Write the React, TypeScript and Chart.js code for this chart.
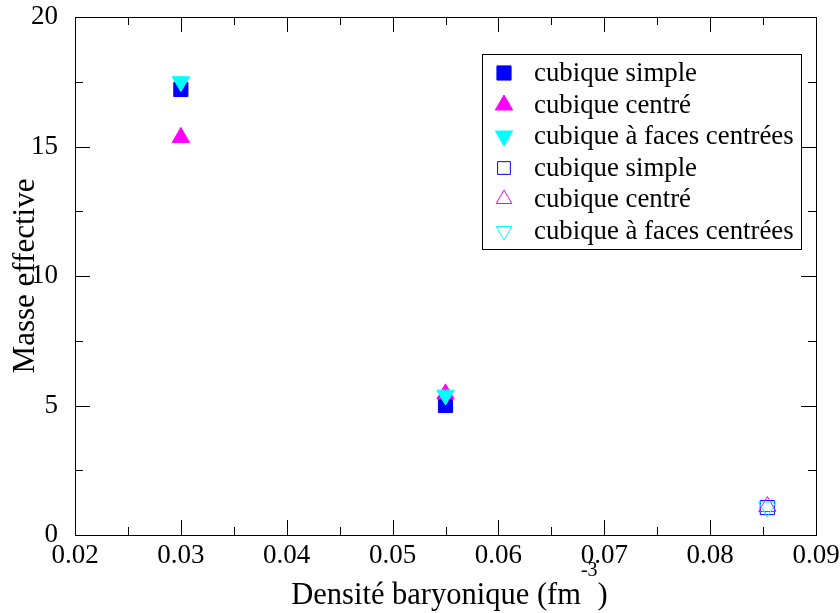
import React, { useEffect, useRef } from 'react';
import { Chart, registerables } from 'chart.js';

Chart.register(...registerables);

// ---- data ----
const densityFilled = [0.03, 0.055];
const densityOpen = [0.0854];
const massSimpleFilled = [17.2, 5.0];
const massCentreFilled = [15.35, 5.45];
const massFacesFilled = [17.5, 5.4];
const massSimpleOpen = [1.06];
const massCentreOpen = [1.1];
const massFacesOpen = [1.08];
const seriesLabels = ['cubique simple', 'cubique centré', 'cubique à faces centrées'];
const seriesColors = ['#0000ff', '#ff00ff', '#00ffff'];
const seriesShapes = ['rect', 'triangle', 'triangleDown'];
const xTickValues = [0.02, 0.03, 0.04, 0.05, 0.06, 0.07, 0.08, 0.09];
const yTickValues = [0, 5, 10, 15, 20];
const xTitle = 'Densité baryonique (fm';
const xTitleSup = '-3';
const yTitle = 'Masse effective';

const FONT = '"Liberation Serif", "DejaVu Serif", "Noto Serif", serif';

function pts(xs: number[], ys: number[]) {
  return xs.map((x, i) => ({ x, y: ys[i] }));
}

function drawMarker(ctx: CanvasRenderingContext2D, shape: string, x: number, y: number, r: number, color: string, filled: boolean) {
  ctx.save();
  ctx.beginPath();
  if (shape === 'rect') {
    const s = Math.SQRT1_2 * r;
    ctx.rect(x - s, y - s, 2 * s, 2 * s);
  } else {
    const dir = shape === 'triangle' ? -1 : 1;
    const w = r * Math.sin(Math.PI / 3);
    ctx.moveTo(x, y + dir * r);
    ctx.lineTo(x - w, y - dir * r / 2);
    ctx.lineTo(x + w, y - dir * r / 2);
    ctx.closePath();
  }
  ctx.lineWidth = 1;
  ctx.strokeStyle = color;
  if (filled) {
    ctx.fillStyle = color;
    ctx.fill();
  }
  ctx.stroke();
  ctx.restore();
}

const framePlugin = {
  id: 'frameTicks',
  beforeDatasetsDraw(chart: any) {
    const { ctx, scales } = chart;
    const xs = scales.x;
    const ys = scales.y;
    const L = xs.getPixelForValue(xTickValues[0]);
    const R = xs.getPixelForValue(xTickValues[xTickValues.length - 1]);
    const B = ys.getPixelForValue(yTickValues[0]);
    const T = ys.getPixelForValue(yTickValues[yTickValues.length - 1]);
    ctx.save();
    ctx.strokeStyle = '#000';
    ctx.lineWidth = 1;
    ctx.strokeRect(Math.round(L) + 0.5, Math.round(T) + 0.5, Math.round(R - L), Math.round(B - T));
    const major = 15;
    const minor = 8;
    ctx.beginPath();
    for (let i = 0; i < xTickValues.length; i++) {
      const v = xTickValues[i];
      const px = Math.round(xs.getPixelForValue(v)) + 0.5;
      ctx.moveTo(px, B); ctx.lineTo(px, B - major);
      ctx.moveTo(px, T); ctx.lineTo(px, T + major);
      if (i < xTickValues.length - 1) {
        const mv = (v + xTickValues[i + 1]) / 2;
        const mx = Math.round(xs.getPixelForValue(mv)) + 0.5;
        ctx.moveTo(mx, B); ctx.lineTo(mx, B - minor);
        ctx.moveTo(mx, T); ctx.lineTo(mx, T + minor);
      }
    }
    for (let i = 0; i < yTickValues.length; i++) {
      const v = yTickValues[i];
      const py = Math.round(ys.getPixelForValue(v)) + 0.5;
      ctx.moveTo(L, py); ctx.lineTo(L + major, py);
      ctx.moveTo(R, py); ctx.lineTo(R - major, py);
      if (i < yTickValues.length - 1) {
        const mv = (v + yTickValues[i + 1]) / 2;
        const my = Math.round(ys.getPixelForValue(mv)) + 0.5;
        ctx.moveTo(L, my); ctx.lineTo(L + minor, my);
        ctx.moveTo(R, my); ctx.lineTo(R - minor, my);
      }
    }
    ctx.stroke();
    ctx.restore();
  },
  afterDraw(chart: any) {
    const { ctx, scales } = chart;
    const xs = scales.x;
    const ys = scales.y;
    const L = xs.getPixelForValue(xTickValues[0]);
    const R = xs.getPixelForValue(xTickValues[xTickValues.length - 1]);
    const B = ys.getPixelForValue(yTickValues[0]);
    const T = ys.getPixelForValue(yTickValues[yTickValues.length - 1]);
    ctx.save();
    ctx.fillStyle = '#000';
    // y title
    ctx.font = `31px ${FONT}`;
    ctx.textAlign = 'center';
    ctx.textBaseline = 'middle';
    ctx.save();
    ctx.translate(26, (T + B) / 2);
    ctx.rotate(-Math.PI / 2);
    ctx.fillText(yTitle, 0, 0);
    ctx.restore();
    // x title with superscript
    ctx.textAlign = 'left';
    ctx.textBaseline = 'alphabetic';
    ctx.font = `30.5px ${FONT}`;
    const w1 = ctx.measureText(xTitle).width;
    const w3 = ctx.measureText(')').width;
    ctx.font = `20px ${FONT}`;
    const w2 = ctx.measureText(xTitleSup).width;
    const total = w1 + w2 + w3;
    const cx = (L + R) / 2 + 4;
    const x0 = cx - total / 2;
    const base = 604;
    ctx.font = `30.5px ${FONT}`;
    ctx.fillText(xTitle, x0, base);
    ctx.font = `20px ${FONT}`;
    ctx.fillText(xTitleSup, x0 + w1, base - 28);
    ctx.font = `30.5px ${FONT}`;
    ctx.fillText(')', x0 + w1 + w2, base);

    // legend
    const lx = 482.5, ly = 54.5, lw = 319, lh = 195;
    ctx.fillStyle = '#fff';
    ctx.fillRect(lx, ly, lw, lh);
    ctx.strokeStyle = '#000';
    ctx.lineWidth = 1;
    ctx.strokeRect(lx, ly, lw, lh);
    const rows = [73, 105, 136, 168, 199, 231];
    ctx.font = `26.8px ${FONT}`;
    ctx.textBaseline = 'middle';
    ctx.textAlign = 'left';
    for (let i = 0; i < 6; i++) {
      const k = i % 3;
      const filled = i < 3;
      drawMarker(ctx, seriesShapes[k], 504, rows[i], filled ? 10 : 9, seriesColors[k], filled);
      ctx.fillStyle = '#000';
      ctx.fillText(seriesLabels[k], 534, rows[i] + 1);
    }
    ctx.restore();
  },
};

function ds(label: string, data: any[], color: string, shape: string, filled: boolean, order: number) {
  const rotation = shape === 'triangleDown' ? 180 : 0;
  const style = shape === 'triangleDown' ? 'triangle' : shape;
  return {
    label,
    data,
    showLine: false,
    pointStyle: style,
    rotation,
    pointRadius: 10,
    pointHoverRadius: 10,
    pointBorderWidth: 1,
    borderColor: color,
    backgroundColor: filled ? color : 'rgba(0,0,0,0)',
    pointBackgroundColor: filled ? color : 'rgba(0,0,0,0)',
    pointBorderColor: color,
    order,
  };
}

export default function App() {
  const ref = useRef<HTMLCanvasElement | null>(null);
  useEffect(() => {
    document.body.style.margin = '0';
    const canvas = ref.current;
    if (!canvas) return;
    const chart = new Chart(canvas, {
      type: 'scatter',
      data: {
        datasets: [
          ds(seriesLabels[0], pts(densityFilled, massSimpleFilled), seriesColors[0], 'rect', true, 6),
          ds(seriesLabels[1], pts(densityFilled, massCentreFilled), seriesColors[1], 'triangle', true, 5),
          ds(seriesLabels[2], pts(densityFilled, massFacesFilled), seriesColors[2], 'triangleDown', true, 4),
          ds(seriesLabels[0], pts(densityOpen, massSimpleOpen), seriesColors[0], 'rect', false, 3),
          ds(seriesLabels[1], pts(densityOpen, massCentreOpen), seriesColors[1], 'triangle', false, 2),
          ds(seriesLabels[2], pts(densityOpen, massFacesOpen), seriesColors[2], 'triangleDown', false, 1),
        ] as any,
      },
      options: {
        responsive: false,
        animation: false,
        devicePixelRatio: 1,
        layout: { padding: { top: 17, right: 24, left: 0, bottom: 0 } },
        plugins: { legend: { display: false }, tooltip: { enabled: false } },
        scales: {
          x: {
            type: 'linear',
            min: 0.02,
            max: 0.09,
            afterFit: (s: any) => { s.height = 78; s.paddingLeft = 0; s.paddingRight = 0; },
            afterBuildTicks: (s: any) => { s.ticks = xTickValues.map((v) => ({ value: v })); },
            grid: { display: false },
            border: { display: false },
            ticks: {
              autoSkip: false,
              maxRotation: 0,
              padding: -3,
              color: '#000',
              font: { family: FONT, size: 27 },
              callback: (v: any) => Number(v).toFixed(2),
            },
          },
          y: {
            type: 'linear',
            min: 0,
            max: 20,
            afterFit: (s: any) => { s.width = 75; s.paddingTop = 0; s.paddingBottom = 0; },
            afterBuildTicks: (s: any) => { s.ticks = yTickValues.map((v) => ({ value: v })); },
            grid: { display: false },
            border: { display: false },
            ticks: {
              autoSkip: false,
              padding: 9,
              color: '#000',
              font: { family: FONT, size: 27 },
              callback: (v: any) => String(v),
            },
          },
        },
      } as any,
      plugins: [framePlugin],
    });
    return () => chart.destroy();
  }, []);
  return (
    <div style={{ width: 840, height: 613, background: '#fff' }}>
      <canvas ref={ref} width={840} height={613} style={{ display: 'block' }} />
    </div>
  );
}
